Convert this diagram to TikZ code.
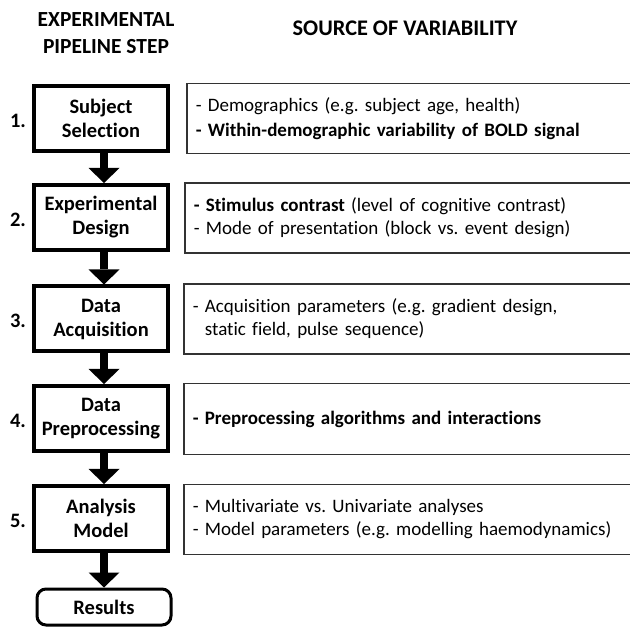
\documentclass[tikz,border=0pt]{standalone}
\usepackage{fontspec}
\setmainfont{Carlito}[Ligatures=NoCommon]
\usetikzlibrary{arrows.meta}
\frenchspacing
\begin{document}
\begin{tikzpicture}[x=1pt,y=-1pt,
  stepbox/.style={draw, line width=4pt, minimum width=134pt, minimum height=65pt, align=center,
    font=\fontsize{20.5}{24}\selectfont\bfseries, inner sep=0pt},
  resbox/.style={draw, line width=3pt, rounded corners=9pt, minimum width=134pt, minimum height=36pt,
    font=\fontsize{20.5}{24}\selectfont\bfseries, inner sep=0pt},
  srcbox/.style={draw=black!80, line width=1.5pt, anchor=west, minimum height=70pt,
    text width=442pt, align=left, inner sep=9pt, font=\fontsize{19}{23}\selectfont},
  num/.style={font=\fontsize{20.5}{24}\selectfont\bfseries},
  head/.style={font=\fontsize{21.5}{27}\selectfont\bfseries, align=center},
  bigarrow/.style={line width=8pt, -{Triangle[width=31pt,length=15pt,line width=0pt]}}
]
\useasboundingbox (0,0) rectangle (630,628);

\node[head] (h1) at (106,33) {EXPERIMENTAL\\PIPELINE STEP};
\node[head, font=\fontsize{22.3}{27}\selectfont\bfseries] (h2) at (405,28) {SOURCE OF VARIABILITY};

\node[stepbox] (b1) at (101,118.5) {Subject\\Selection};
\node[stepbox] (b2) at (101,217.5) {Experimental\\Design};
\node[stepbox] (b3) at (101,319) {Data\\Acquisition};
\node[stepbox] (b4) at (101,418.5) {Data\\Preprocessing};
\node[stepbox] (b5) at (101,518.5) {Analysis\\Model};
\node[resbox] (r) at (104,607) {Results};

\node[num] (n1) at (18,120.5) {1.};
\node[num] (n2) at (18,219.5) {2.};
\node[num] (n3) at (18,321) {3.};
\node[num] (n4) at (18,420.5) {4.};
\node[num] (n5) at (18,520.5) {5.};

\node[srcbox] (s1) at (186,118.5) {- Demographics (e.g. subject age, health)\\[2pt]
  \textbf{- Within-demographic variability of BOLD signal}};
\node[srcbox] (s2) at (184,218) {\textbf{- Stimulus contrast} (level of cognitive contrast)\\
  - Mode of presentation (block vs. event design)};
\node[srcbox] (s3) at (183,319) {- Acquisition parameters (e.g. gradient design,\\
  \phantom{- }static field, pulse sequence)};
\node[srcbox, minimum height=71pt] (s4) at (183,419) {\textbf{- Preprocessing algorithms and interactions}};
\node[srcbox] (s5) at (183,519.5) {- Multivariate vs. Univariate analyses\\
  - Model parameters (e.g. modelling haemodynamics)};

\draw[bigarrow] ([xshift=3pt]b1.south) -- ([xshift=3pt]b2.north);
\draw[bigarrow] ([xshift=3pt]b2.south) -- ([xshift=3pt]b3.north);
\draw[bigarrow] ([xshift=3pt]b3.south) -- ([xshift=3pt]b4.north);
\draw[bigarrow] ([xshift=3pt]b4.south) -- ([xshift=3pt]b5.north);
\draw[bigarrow] ([xshift=3pt]b5.south) -- (r.north);
\end{tikzpicture}
\end{document}
